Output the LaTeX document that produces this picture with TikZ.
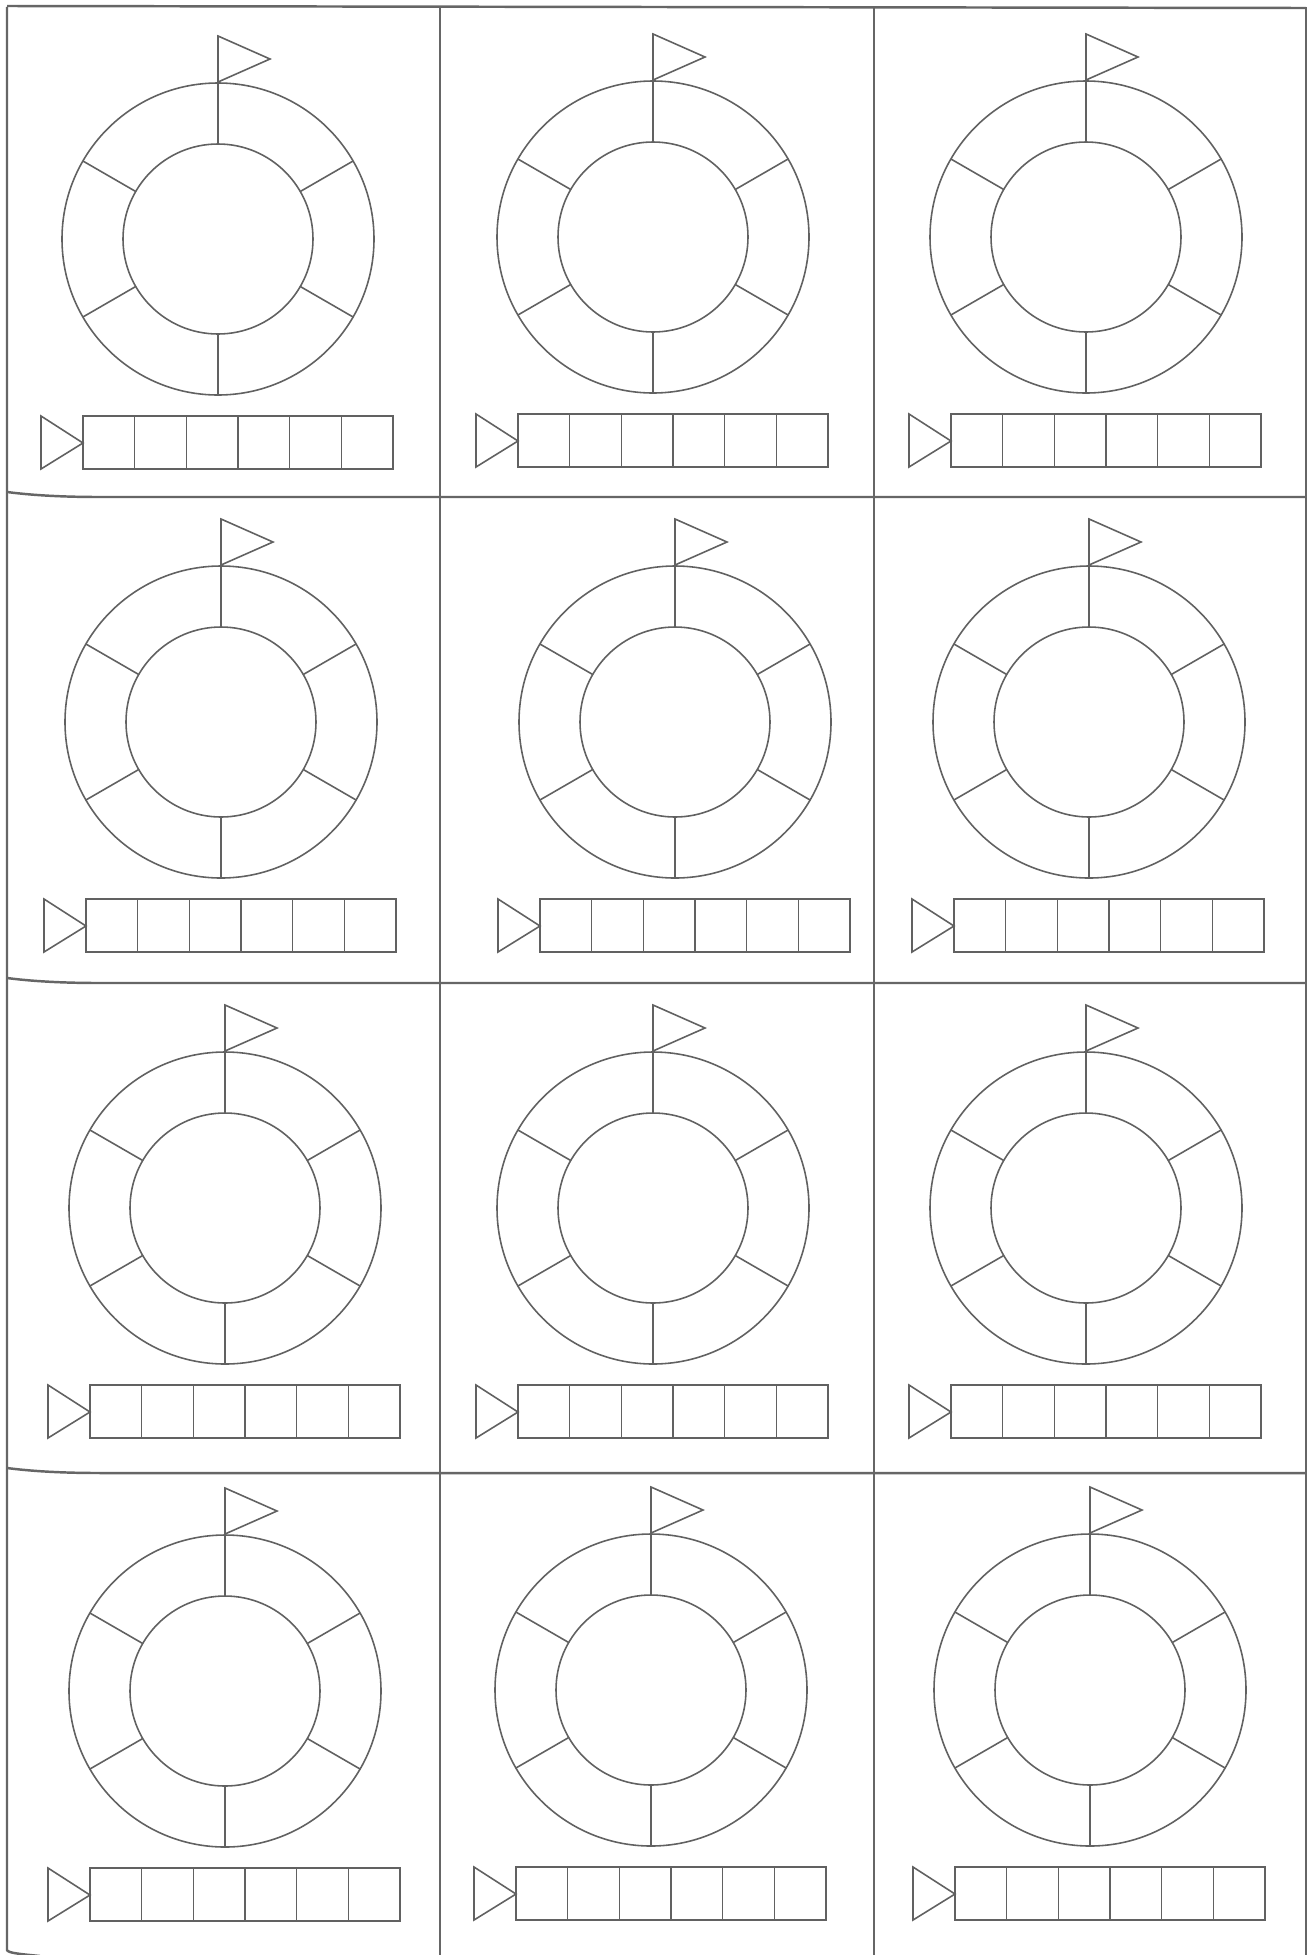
\documentclass[tikz,border=0pt]{standalone}
\begin{document}
\begin{tikzpicture}[x=0.1mm, y=-0.1mm,
    ink/.style={draw=black!62, line width=0.45pt},
    gridline/.style={draw=black!60, line width=0.7pt}]
  \useasboundingbox[fill=white] (0,0) rectangle (1312,1955);
  % Cell borders (scanned sheet, slightly curled at the left)
  \foreach \x in {440, 874, 1306} {
    \draw[gridline] (\x,7) -- (\x,1955);
  }
  \draw[gridline] (7,7) -- (7,1950) .. controls (8,1953) and (20,1954) .. (40,1956);
  \draw[gridline] (7,6) -- (1306,8);
  \foreach \y in {497, 983, 1473} {
    \draw[gridline] (7,\y-5) .. controls (30,\y-2) and (60,\y) .. (100,\y) -- (1306,\y);
  }
  % One ring, flag and box row per cell (centre of the ring)
  \foreach \cx/\cy in {218/239, 653/237, 1086/237,
                       221/722, 675/722, 1089/722,
                       225/1208, 653/1208, 1086/1208,
                       225/1691, 651/1690, 1090/1690} {
    \begin{scope}[shift={(\cx,\cy)}]
      % Ring of six fields (the top spoke is the flag pole)
      \draw[ink] (0,0) circle[radius=15.6mm];
      \draw[ink] (0,0) circle[radius=9.5mm];
      \foreach \a in {30, 90, 150, 210, 330} {
        \draw[ink] (\a:95) -- (\a:156);
      }
      % Flag on the start field
      \draw[ink] (0,-95) -- (0,-203) -- (52,-180) -- (0,-157);
      % Start triangle and six boxes
      \draw[ink] (-177,177) -- (-135,204) -- (-177,230) -- cycle;
      \draw[ink] (-135,177) rectangle (175,230);
      \foreach \i in {1,...,5} {
        \draw[ink] (-135+\i*51.67,177) -- ++(0,53);
      }
    \end{scope}
  }
\end{tikzpicture}
\end{document}
